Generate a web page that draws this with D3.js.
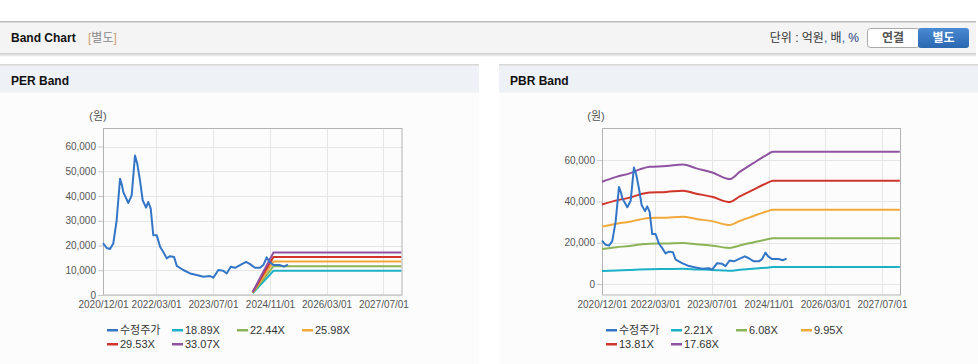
<!DOCTYPE html>
<html lang="ko">
<head>
<meta charset="utf-8">
<title>Band Chart</title>
<script src="https://cdn.jsdelivr.net/npm/d3@7"></script>
<style>
  html, body { margin: 0; padding: 0; background: #fff; }
  svg { display: block; font-family: "Liberation Sans", Arial, "Noto Sans CJK KR", sans-serif; }
  .grid line { stroke: #e6e6e6; shape-rendering: crispEdges; }
  .tick text { fill: #555; font-size: 10px; }
  .tick line { stroke: #c8c8c8; }
  .domain { display: none; }
</style>
</head>
<body>
<script>
// ---- data ----
var priceDates = ["2020/12/01","2021/01/02","2021/01/30","2021/02/27","2021/03/28","2021/04/26","2021/05/13","2021/05/24",
  "2021/07/06","2021/08/04","2021/09/01","2021/09/21","2021/10/14","2021/11/06","2021/12/05","2021/12/24","2022/01/14",
  "2022/02/05","2022/03/06","2022/04/04","2022/05/02","2022/05/31","2022/06/28","2022/08/02","2022/08/25","2022/10/20",
  "2022/12/17","2023/02/12","2023/04/10","2023/06/06","2023/07/05","2023/08/16","2023/09/28","2023/10/27","2023/12/01",
  "2024/01/07","2024/02/18","2024/04/10","2024/05/14","2024/06/26","2024/08/08","2024/09/05","2024/10/04","2024/10/27",
  "2024/11/30","2025/01/26","2025/03/01","2025/04/04"];
var priceValues = [21000,19000,18600,20800,30200,47000,44300,41600,
  37200,40300,56400,53000,46300,38300,35300,37600,34900,
  24200,24200,19500,17400,14800,15700,15400,11800,10100,
  8700,8050,7400,7650,7000,10100,9800,8700,11400,
  11000,12100,13400,12500,11000,11000,12100,15200,13400,
  12100,12100,11500,12300];

var perLabels = ["18.89X","22.44X","25.98X","29.53X","33.07X"];
var perBandDates = ["2024/06/05","2024/12/01","2027/12/01"];
var per1889 = [700, 9820, 9820];
var per2244 = [830, 11670, 11670];
var per2598 = [960, 13510, 13510];
var per2953 = [1090, 15360, 15360];
var per3307 = [1225, 17200, 17200];

var pbrLabels = ["2.21X","6.08X","9.95X","13.81X","17.68X"];
var pbrBandDates = ["2020/12/01","2021/04/04","2021/07/27","2021/10/21","2022/01/14","2022/06/07","2022/10/27","2023/02/19",
  "2023/07/12","2023/11/04","2023/12/02","2024/02/26","2024/06/19","2024/10/12","2024/12/08","2027/12/01"];
var pbr221 = [6300,6600,6800,7050,7200,7250,7350,7100,6850,6500,6450,6900,7450,7950,8200,8200];
var pbr608 = [17000,17850,18450,19100,19550,19650,19900,19250,18550,17600,17500,18700,20150,21600,22200,22200];
var pbr995 = [27800,29200,30150,31250,32000,32150,32600,31500,30350,28750,28600,30550,32850,35100,36000,36000];
var pbr1381 = [38500,40500,41850,43350,44350,44600,45200,43750,42100,39900,39700,42400,45600,48750,50000,50000];
var pbr1768 = [49500,51900,53600,55500,56800,57100,57900,56000,53900,51100,50800,54300,58400,62400,64000,64000];

var xTickLabels = ["2020/12/01","2022/03/01","2023/07/01","2024/11/01","2026/03/01","2027/07/01"];
var perYTicks = [0,10000,20000,30000,40000,50000,60000];
var pbrYTicks = [0,20000,40000,60000];

var bandColors = ["#1cb0c6","#8cb356","#f2a93b","#d0352b","#8f52a1"];
var priceColor = "#3376c7";

// ---- drawing ----
var W = 978, H = 364;
var parse = d3.timeParse("%Y/%m/%d");
var fmt = d3.timeFormat("%Y/%m/%d");

var svg = d3.select("body").append("svg").attr("width", W).attr("height", H);

var defs = svg.append("defs");
var sh = defs.append("linearGradient").attr("id", "shade").attr("x1", 0).attr("y1", 0).attr("x2", 0).attr("y2", 1);
sh.append("stop").attr("offset", "0").attr("stop-color", "#c8c8c8");
sh.append("stop").attr("offset", "1").attr("stop-color", "#fff");
var bl = defs.append("linearGradient").attr("id", "blueBtn").attr("x1", 0).attr("y1", 0).attr("x2", 0).attr("y2", 1);
bl.append("stop").attr("offset", "0").attr("stop-color", "#4a8ad2");
bl.append("stop").attr("offset", "1").attr("stop-color", "#2a68b0");

// top header bar
svg.append("rect").attr("x", 0).attr("y", 21).attr("width", 976).attr("height", 32).attr("fill", "#f4f4f4");
svg.append("rect").attr("x", 0).attr("y", 21).attr("width", 976).attr("height", 1.5).attr("fill", "#b9b9b9");
svg.append("rect").attr("x", 0).attr("y", 53).attr("width", 976).attr("height", 4).attr("fill", "url(#shade)");
svg.append("text").attr("x", 11).attr("y", 42).attr("font-size", 12).attr("font-weight", "bold").attr("fill", "#111").text("Band Chart");
var tag = svg.append("text").attr("x", 88).attr("y", 42).attr("font-size", 12).attr("fill", "#888");
tag.append("tspan").attr("fill", "#d0a070").text("[");
tag.append("tspan").text("별도");
tag.append("tspan").attr("fill", "#d0a070").text("]");

var unit = svg.append("text").attr("x", 859).attr("y", 42).attr("font-size", 12).attr("fill", "#333").attr("text-anchor", "end");
unit.append("tspan").text("단위 : 억원");
unit.append("tspan").attr("fill", "#2e5fa8").text(",");
unit.append("tspan").text(" 배");
unit.append("tspan").attr("fill", "#2e5fa8").text(",");
unit.append("tspan").attr("fill", "#1c3d7a").text(" %");

svg.append("rect").attr("x", 867.5).attr("y", 28.5).attr("width", 52).attr("height", 19).attr("rx", 3)
  .attr("fill", "#fff").attr("stroke", "#a9a9a9");
svg.append("text").attr("x", 893).attr("y", 42).attr("text-anchor", "middle").attr("font-size", 12)
  .attr("font-weight", "bold").attr("fill", "#555").text("연결");
svg.append("rect").attr("x", 918).attr("y", 28).attr("width", 51).attr("height", 20).attr("rx", 3)
  .attr("fill", "url(#blueBtn)");
svg.append("text").attr("x", 943.5).attr("y", 42).attr("text-anchor", "middle").attr("font-size", 12)
  .attr("font-weight", "bold").attr("fill", "#fff").text("별도");

function panel(px, pw, title) {
  svg.append("rect").attr("x", px).attr("y", 64).attr("width", pw).attr("height", H - 64).attr("fill", "#fcfcfc");
  svg.append("rect").attr("x", px).attr("y", 64).attr("width", pw).attr("height", 28.5).attr("fill", "#eef2f7");
  svg.append("rect").attr("x", px).attr("y", 64).attr("width", pw).attr("height", 1.5).attr("fill", "#d6d6d6");
  svg.append("text").attr("x", px + 11).attr("y", 85).attr("font-size", 12).attr("font-weight", "bold")
    .attr("fill", "#111").text(title);
}

function chart(cfg) {
  var x = d3.scaleTime().domain([parse("2020/12/01"), parse("2027/12/03")]).range([cfg.left, cfg.right]);
  var y = d3.scaleLinear().domain(cfg.yDomain).range([295, 128.5]);
  var g = svg.append("g");

  var grid = g.append("g").attr("class", "grid");
  grid.selectAll(".h").data(cfg.yTicks).join("line")
    .attr("x1", cfg.left).attr("x2", cfg.right)
    .attr("y1", function(d) { return Math.round(y(d)) + 0.5; }).attr("y2", function(d) { return Math.round(y(d)) + 0.5; });
  grid.selectAll(".v").data(xTickLabels).join("line")
    .attr("y1", 128.5).attr("y2", 295)
    .attr("x1", function(d) { return Math.round(x(parse(d))) + 0.5; }).attr("x2", function(d) { return Math.round(x(parse(d))) + 0.5; });

  g.append("g").attr("transform", "translate(" + cfg.left + ",0)")
    .call(d3.axisLeft(y).tickValues(cfg.yTicks).tickSize(5).tickPadding(2).tickFormat(d3.format(",")));
  g.append("g").attr("transform", "translate(0,295)")
    .call(d3.axisBottom(x).tickValues(xTickLabels.map(parse)).tickSize(0).tickPadding(6).tickFormat(fmt));

  g.append("rect").attr("x", cfg.left + 0.5).attr("y", 128.5).attr("width", cfg.right - cfg.left).attr("height", 295 - 128.5)
    .attr("fill", "none").attr("stroke", "#b3b3b3");

  g.append("text").attr("x", cfg.unitX).attr("y", 120).attr("text-anchor", "middle").attr("font-size", 11)
    .attr("fill", "#555").text("(원)");

  var line = d3.line().x(function(d) { return x(d[0]); }).y(function(d) { return y(d[1]); }).curve(cfg.curve);
  cfg.bands.forEach(function(vals, i) {
    var pts = cfg.bandDates.map(function(d, j) { return [parse(d), vals[j]]; });
    g.append("path").attr("d", line(pts)).attr("fill", "none").attr("stroke", bandColors[i]).attr("stroke-width", 2);
  });
  var pricePts = priceDates.map(function(d, j) { return [parse(d), priceValues[j]]; });
  g.append("path").attr("d", d3.line().x(function(d) { return x(d[0]); }).y(function(d) { return y(d[1]); })(pricePts))
    .attr("fill", "none").attr("stroke", priceColor).attr("stroke-width", 2).attr("stroke-linejoin", "round");

  // legend
  var items = [{label: "수정주가", color: priceColor}].concat(cfg.labels.map(function(l, i) { return {label: l, color: bandColors[i]}; }));
  var lg = g.selectAll(".lg").data(items).join("g")
    .attr("transform", function(d, i) { return "translate(" + (cfg.legX + (i % 4) * 65) + "," + (330 + Math.floor(i / 4) * 14) + ")"; });
  lg.append("rect").attr("x", 0).attr("y", -1).attr("width", 11).attr("height", 2.5).attr("fill", function(d) { return d.color; });
  lg.append("text").attr("x", 13).attr("y", 4).attr("font-size", 11).attr("fill", "#333").text(function(d) { return d.label; });
}

panel(0, 479, "PER Band");
panel(499, 479, "PBR Band");

chart({left: 103, right: 401.5, yDomain: [0, 67300], yTicks: perYTicks, unitX: 98, legX: 107,
  bandDates: perBandDates, bands: [per1889, per2244, per2598, per2953, per3307], labels: perLabels, curve: d3.curveLinear});
chart({left: 602, right: 900, yDomain: [-5300, 75300], yTicks: pbrYTicks, unitX: 596, legX: 606,
  bandDates: pbrBandDates, bands: [pbr221, pbr608, pbr995, pbr1381, pbr1768], labels: pbrLabels, curve: d3.curveMonotoneX});
</script>
</body>
</html>
